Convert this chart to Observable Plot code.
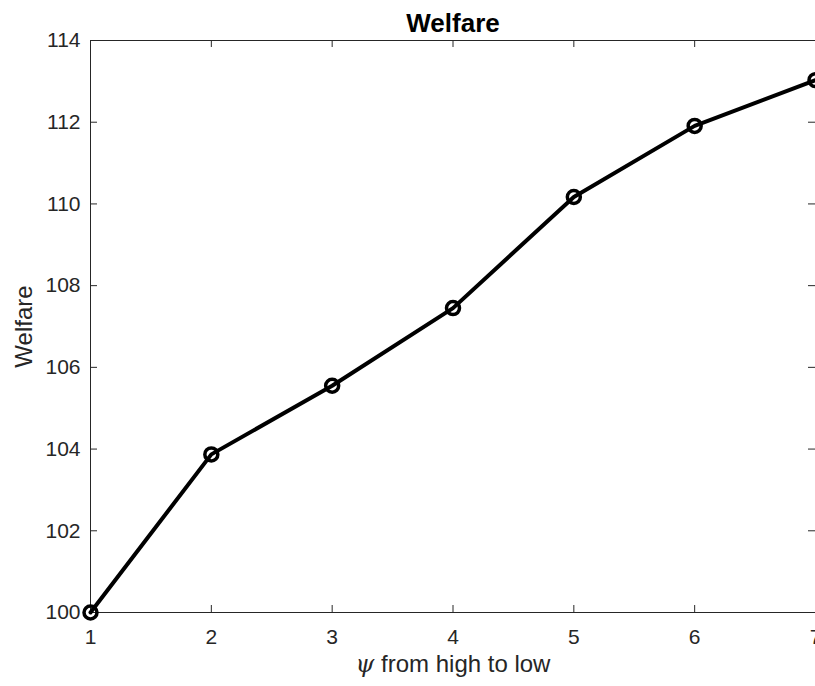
<!DOCTYPE html>
<html><head><meta charset="utf-8">
<script src="https://cdn.jsdelivr.net/npm/d3@7"></script>
<script src="https://cdn.jsdelivr.net/npm/@observablehq/plot@0.6"></script>
<style>body{margin:0;background:#fff} svg{display:block}</style>
</head><body><div id="chart"></div>
<script>
const psiLevels = [1, 2, 3, 4, 5, 6, 7];
const welfare = [100.0, 103.87, 105.55, 107.45, 110.17, 111.91, 113.03];
const xTicks = [1, 2, 3, 4, 5, 6, 7];
const yTicks = [100, 102, 104, 106, 108, 110, 112, 114];
const titleText = "Welfare";
const xLabel = "ψ from high to low";
const yLabel = "Welfare";

const data = psiLevels.map((x, i) => ({x, y: welfare[i]}));

const W = 815, H = 686, mL = 90, mT = 40, mB = 74, mR = 0;
const innerH = H - mT - mB, innerW = W - mL - mR;
const axisColor = "#262626";
const font = "'Liberation Sans', Arial, Helvetica, sans-serif";

const chart = Plot.plot({
  width: W, height: H,
  marginLeft: mL, marginTop: mT, marginBottom: mB, marginRight: mR,
  style: {fontFamily: font, fontSize: "21px", color: axisColor, background: "#fff", overflow: "visible"},
  x: {domain: [1, 7]},
  y: {domain: [100, 114]},
  marks: [
    Plot.frame({stroke: axisColor, strokeWidth: 1}),
    Plot.tickX(xTicks, {x: d => d, insetTop: innerH - 7, stroke: axisColor}),
    Plot.tickX(xTicks, {x: d => d, insetBottom: innerH - 7, stroke: axisColor}),
    Plot.tickY(yTicks, {y: d => d, insetRight: innerW - 7, stroke: axisColor}),
    Plot.tickY(yTicks, {y: d => d, insetLeft: innerW - 7, stroke: axisColor}),
    Plot.axisX(xTicks, {tickSize: 0, tickPadding: 17, tickFormat: d3.format("d"), label: xLabel, labelAnchor: "center", labelArrow: "none", labelOffset: 59, fontSize: 21}),
    Plot.axisY(yTicks, {tickSize: 0, tickPadding: 10, tickFormat: d3.format("d"), label: yLabel, labelAnchor: "center", labelArrow: "none", labelOffset: 76, fontSize: 21}),
    Plot.line(data, {x: "x", y: "y", stroke: "black", strokeWidth: 4}),
    Plot.dot(data, {x: "x", y: "y", r: 6.5, stroke: "black", strokeWidth: 3.5, fill: "none"}),
    Plot.text([titleText], {frameAnchor: "top", dy: -9, lineAnchor: "bottom", text: d => d, fontWeight: "bold", fontSize: 26, fill: "black"})
  ]
});
document.getElementById("chart").appendChild(chart);

// italic psi in the x label
d3.select(chart).selectAll("g[aria-label='x-axis label'] text").each(function() {
  const t = d3.select(this);
  const s = t.text();
  if (s.startsWith("ψ")) {
    t.text("");
    t.append("tspan").attr("font-style", "italic").attr("font-family", "'DejaVu Serif', serif").text("ψ");
    t.append("tspan").text(s.slice(1));
  }
});
d3.select(chart).selectAll("g[aria-label='x-axis label'] text, g[aria-label='y-axis label'] text").attr("font-size", 24);
</script>
</body></html>
